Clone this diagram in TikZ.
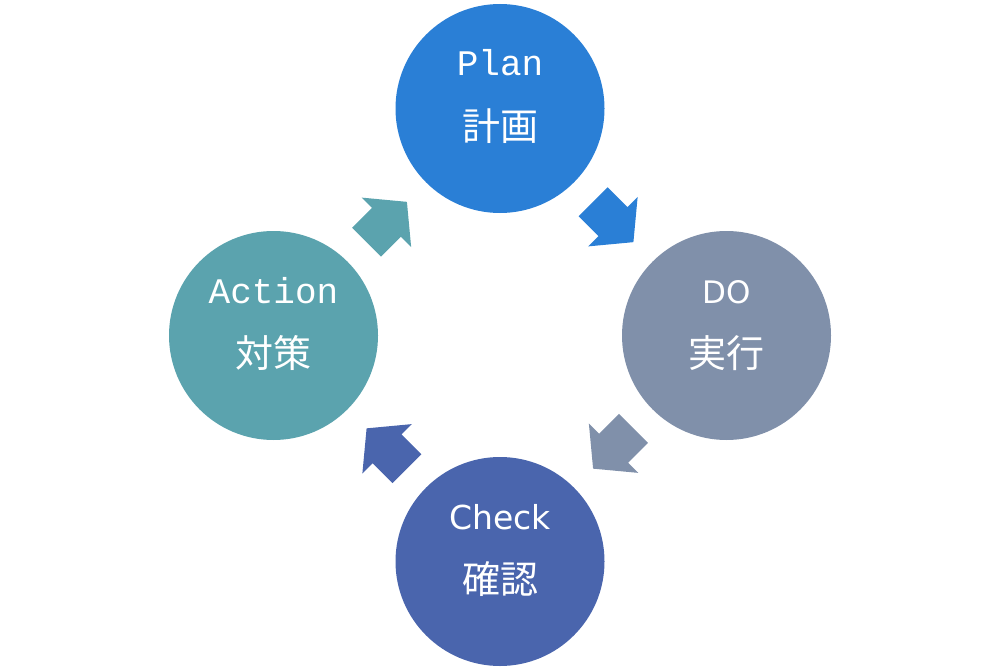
\documentclass[tikz,border=0pt]{standalone}
\usepackage{fontspec}
\usepackage{tikz}
\usetikzlibrary{calc}
\newfontfamily\latinmono{Liberation Mono}
\newfontfamily\latinsans{DejaVu Sans}
\newfontfamily\jafont{Noto Sans CJK JP}
\definecolor{planblue}{RGB}{42,127,214}
\definecolor{dogray}{RGB}{128,144,170}
\definecolor{checkblue}{RGB}{74,101,173}
\definecolor{actionteal}{RGB}{91,163,174}

\begin{document}
\begin{tikzpicture}[x=1pt,y=-1pt,
  phase/.style={circle,draw=none,inner sep=0pt,minimum size=209pt},
  entext/.style={text=white,anchor=base,inner sep=0pt},
  jatext/.style={text=white,anchor=base,inner sep=0pt,font=\jafont\fontsize{38}{40}\selectfont}]
\useasboundingbox (0,0) rectangle (1000,671);
\node [phase,fill=planblue] (plan) at (500,108.5) {};
\node [phase,fill=dogray] (do) at (726.5,335.5) {};
\node [phase,fill=checkblue] (check) at (500,561.5) {};
\node [phase,fill=actionteal] (action) at (273.5,335.5) {};
\node [entext,font=\latinmono\fontsize{36}{40}\selectfont] (plan-en) at ($(plan)+(0,-32.5)$) {Plan};
\node [jatext] (plan-ja) at ($(plan)+(0,32)$) {計画};
\node [entext,font=\latinsans\fontsize{31}{36}\selectfont] (do-en) at ($(do)+(0,-32.5)$) {DO};
\node [jatext] (do-ja) at ($(do)+(0,32)$) {実行};
\node [entext,font=\latinsans\fontsize{33}{36}\selectfont] (check-en) at ($(check)+(0,-32.5)$) {Check};
\node [jatext] (check-ja) at ($(check)+(0,32)$) {確認};
\node [entext,font=\latinmono\fontsize{36}{40}\selectfont] (action-en) at ($(action)+(0,-32.5)$) {Action};
\node [jatext] (action-ja) at ($(action)+(0,32)$) {対策};
\foreach \a/\b/\r/\c in {plan/do/-45/planblue,do/check/-135/dogray,check/action/135/checkblue,action/plan/45/actionteal}
  \fill [\c,shift={($(\a)!0.5!(\b)$)},rotate=\r] (-28.5,-20.5) -- (-0.5,-20.5) -- (-0.5,-35) -- (28.5,0) -- (-0.5,35) -- (-0.5,20.5) -- (-28.5,20.5) -- cycle;
\end{tikzpicture}
\end{document}
